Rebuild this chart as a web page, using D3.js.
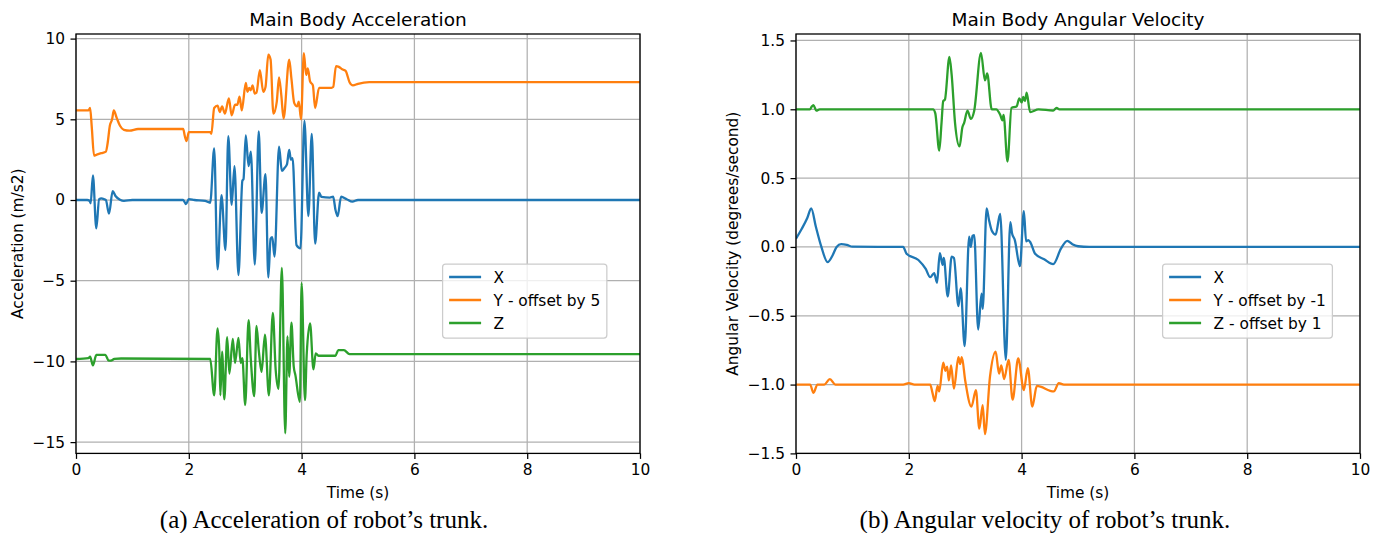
<!DOCTYPE html>
<html>
<head>
<meta charset="utf-8">
<script src="https://cdn.jsdelivr.net/npm/d3@7"></script>
<style>
  html, body { margin: 0; padding: 0; background: #fff; }
  svg text { fill: #000; }
</style>
</head>
<body>
<svg id="fig" width="1380" height="533"></svg>
<script>
// tick values
const timeTicks = [0, 2, 4, 6, 8, 10];
const accTicks = [-15, -10, -5, 0, 5, 10];
const velTicks = [-1.5, -1.0, -0.5, 0.0, 0.5, 1.0, 1.5];

// Main body acceleration, [time (s), value]
const accX = [[0,0],[0.2,0],[0.24,-0.05],[0.26,-0.2],[0.3,1.52],[0.36,-1.76],[0.41,0.05],[0.45,0.1],[0.5,0.05],[0.53,0],
  [0.585,-0.85],[0.65,0.55],[0.7,0.25],[0.78,0.02],[0.85,-0.05],[1.0,0],[1.9,0],[1.95,-0.25],[2.0,0.05],[2.1,0],
  [2.29,-0.06],[2.38,-0.17],[2.45,3.2],[2.51,-4.3],[2.58,0.3],[2.65,-3.1],[2.70,3.95],[2.76,-0.3],[2.81,2.1],[2.88,-4.65],
  [2.95,1.2],[2.97,1.3],[3.01,4.0],[3.06,2.1],[3.10,3.0],[3.17,-4.0],[3.24,4.25],[3.29,-0.8],[3.36,1.6],[3.41,-4.8],
  [3.45,-2.4],[3.48,-2.3],[3.52,-3.5],[3.60,3.3],[3.65,1.8],[3.70,2.0],[3.74,2.2],[3.78,3.1],[3.81,2.5],[3.84,2.6],
  [3.91,-2.8],[3.98,-3.0],[4.05,4.9],[4.12,-1.0],[4.18,4.1],[4.24,-2.7],[4.31,0.45],[4.35,0.2],[4.5,0.15],[4.56,0.2],
  [4.6,-0.6],[4.64,-1.0],[4.70,0.2],[4.8,0.05],[4.9,-0.1],[5.0,0],[10,0]];

const accY = [[0,5.55],[0.22,5.55],[0.25,5.7],[0.28,4.5],[0.32,2.75],[0.36,2.8],[0.45,2.9],[0.53,3.0],[0.56,3.5],[0.6,4.6],
  [0.64,5.0],[0.67,5.55],[0.72,5.1],[0.78,4.6],[0.85,4.35],[0.95,4.3],[1.1,4.4],[1.9,4.4],[1.93,3.95],[1.96,3.65],
  [2.0,4.2],[2.38,4.2],[2.4,4.1],[2.45,5.7],[2.51,5.85],[2.55,5.45],[2.59,5.8],[2.64,5.35],[2.71,6.3],[2.76,5.25],
  [2.82,5.9],[2.86,5.9],[2.90,6.4],[2.94,5.55],[3.01,7.25],[3.04,6.7],[3.07,6.95],[3.10,6.8],[3.13,7.1],[3.17,6.6],
  [3.20,6.65],[3.26,8.05],[3.32,6.7],[3.36,7.0],[3.41,9.0],[3.45,8.7],[3.50,5.35],[3.56,6.1],[3.60,7.6],[3.64,6.5],
  [3.68,5.05],[3.78,8.7],[3.82,7.5],[3.87,6.0],[3.92,5.8],[3.95,6.1],[3.99,5.0],[4.04,9.1],[4.08,7.75],[4.11,8.15],
  [4.15,7.35],[4.20,7.1],[4.24,5.7],[4.31,6.95],[4.53,6.95],[4.56,7.0],[4.61,8.3],[4.66,8.25],[4.72,8.1],[4.78,8.0],
  [4.85,7.3],[4.91,7.1],[5.0,7.2],[5.2,7.3],[10,7.3]];

const accZ = [[0,-9.85],[0.22,-9.8],[0.25,-9.7],[0.30,-10.25],[0.36,-9.6],[0.52,-9.6],[0.58,-9.95],[0.62,-9.95],[0.68,-9.85],
  [0.8,-9.82],[2.38,-9.85],[2.45,-12.1],[2.51,-7.95],[2.54,-9.3],[2.56,-12.1],[2.59,-9.4],[2.63,-12.35],[2.68,-8.5],
  [2.72,-10.75],[2.78,-8.6],[2.82,-10.1],[2.88,-8.55],[2.92,-10.1],[2.95,-9.8],[3.00,-12.7],[3.06,-7.45],[3.10,-9.9],
  [3.16,-12.15],[3.20,-7.8],[3.24,-9.3],[3.29,-10.65],[3.35,-8.35],[3.42,-12.1],[3.49,-7.0],[3.54,-10.5],[3.59,-11.7],
  [3.65,-4.2],[3.71,-14.45],[3.75,-8.45],[3.78,-10.95],[3.82,-7.6],[3.86,-10.3],[3.89,-10.85],[3.97,-12.5],[4.00,-5.15],
  [4.06,-12.4],[4.09,-9.6],[4.15,-7.65],[4.21,-10.5],[4.25,-9.5],[4.30,-9.65],[4.6,-9.65],[4.65,-9.3],[4.75,-9.3],
  [4.85,-9.55],[5.0,-9.55],[10,-9.55]];

// Main body angular velocity, [time (s), value]
const velX = [[0,0.06],[0.1,0.13],[0.2,0.21],[0.27,0.28],[0.35,0.15],[0.45,0.0],[0.56,-0.11],[0.65,-0.06],[0.72,0.0],
  [0.8,0.02],[0.9,0.015],[1.0,0.002],[1.9,0.0],[1.96,-0.05],[2.17,-0.095],[2.3,-0.16],[2.38,-0.22],[2.45,-0.19],
  [2.5,-0.26],[2.55,-0.045],[2.6,-0.13],[2.62,-0.08],[2.69,-0.36],[2.76,-0.07],[2.80,-0.08],[2.88,-0.43],[2.92,-0.30],
  [2.99,-0.72],[3.07,0.075],[3.10,0.0],[3.13,0.08],[3.16,0.085],[3.23,-0.60],[3.29,-0.34],[3.31,-0.45],[3.38,0.28],
  [3.42,0.2],[3.47,0.12],[3.54,0.09],[3.62,0.24],[3.72,-0.82],[3.80,0.18],[3.83,0.1],[3.88,0.05],[3.97,-0.14],
  [4.04,0.26],[4.08,0.04],[4.12,0.05],[4.16,0.03],[4.24,-0.05],[4.4,-0.09],[4.56,-0.125],[4.7,-0.01],[4.81,0.044],
  [4.9,0.02],[5.0,0.005],[5.2,0],[10,0]];

const velY = [[0,-1.0],[0.25,-1.0],[0.31,-1.06],[0.38,-1.0],[0.5,-1.0],[0.6,-0.96],[0.7,-1.0],[1.9,-1.0],[2.0,-0.99],
  [2.1,-1.0],[2.38,-1.0],[2.42,-1.06],[2.46,-1.12],[2.51,-1.01],[2.54,-1.05],[2.61,-0.84],[2.65,-0.9],[2.68,-0.87],
  [2.71,-0.97],[2.75,-0.86],[2.80,-1.03],[2.88,-0.80],[2.91,-0.85],[2.94,-0.80],[3.00,-0.97],[3.11,-1.16],[3.19,-1.04],
  [3.25,-1.32],[3.31,-1.15],[3.35,-1.36],[3.44,-0.94],[3.54,-0.76],[3.60,-0.92],[3.64,-0.86],[3.69,-0.96],[3.77,-0.82],
  [3.84,-1.11],[3.94,-0.81],[4.04,-1.04],[4.11,-0.88],[4.19,-1.16],[4.27,-1.01],[4.57,-1.05],[4.66,-0.99],[4.75,-1.0],
  [10,-1.0]];

const velZ = [[0,1.0],[0.25,1.0],[0.28,1.02],[0.31,1.03],[0.36,0.99],[0.42,1.0],[2.43,1.0],[2.47,0.97],[2.54,0.70],
  [2.58,0.9],[2.61,1.06],[2.64,1.07],[2.72,1.38],[2.76,1.25],[2.82,0.90],[2.90,0.73],[2.95,0.87],[2.98,0.9],[3.04,0.99],
  [3.10,0.93],[3.16,0.99],[3.28,1.41],[3.35,1.21],[3.39,1.26],[3.47,1.0],[3.55,1.0],[3.62,0.96],[3.66,0.92],[3.68,0.96],
  [3.75,0.62],[3.82,1.01],[3.91,1.02],[3.96,1.08],[4.00,1.05],[4.03,1.09],[4.06,1.06],[4.09,1.12],[4.15,0.98],[4.30,1.0],
  [4.56,0.99],[4.62,1.01],[4.67,1.0],[10,1.0]];

const seriesColors = ['#1f77b4', '#ff7f0e', '#2ca02c'];
const accLabels = ['X', 'Y - offset by 5', 'Z'];
const velLabels = ['X', 'Y - offset by -1', 'Z - offset by 1'];

const FONT = "'DejaVu Sans', sans-serif";
const svg = d3.select('#fig');

function drawPanel(opt) {
  const g = svg.append('g');
  const x = d3.scaleLinear().domain([0, 10]).range([opt.left, opt.right]);
  const y = d3.scaleLinear().domain(opt.yDomain).range([opt.bottom, opt.top]);

  // grid
  g.append('g').selectAll('line').data(timeTicks).join('line')
    .attr('x1', d => x(d)).attr('x2', d => x(d))
    .attr('y1', opt.top).attr('y2', opt.bottom)
    .attr('stroke', '#b0b0b0').attr('stroke-width', 1.25);
  g.append('g').selectAll('line').data(opt.yTicks).join('line')
    .attr('x1', opt.left).attr('x2', opt.right)
    .attr('y1', d => y(d)).attr('y2', d => y(d))
    .attr('stroke', '#b0b0b0').attr('stroke-width', 1.25);

  // data lines
  const clipId = 'clip-' + opt.id;
  g.append('clipPath').attr('id', clipId).append('rect')
    .attr('x', opt.left).attr('y', opt.top)
    .attr('width', opt.right - opt.left).attr('height', opt.bottom - opt.top);
  const line = d3.line().x(d => x(d[0])).y(d => y(d[1])).curve(d3.curveMonotoneX);
  opt.series.forEach((s, i) => {
    g.append('path').datum(s)
      .attr('clip-path', `url(#${clipId})`)
      .attr('d', line)
      .attr('fill', 'none')
      .attr('stroke', seriesColors[i])
      .attr('stroke-width', 2.3)
      .attr('stroke-linejoin', 'round');
  });

  // spines
  g.append('rect')
    .attr('x', opt.left).attr('y', opt.top)
    .attr('width', opt.right - opt.left).attr('height', opt.bottom - opt.top)
    .attr('fill', 'none').attr('stroke', '#000').attr('stroke-width', 1.3);

  // axes
  const xAxis = d3.axisBottom(x).tickValues(timeTicks).tickFormat(d3.format('d'))
    .tickSize(5.5).tickPadding(5.5).tickSizeOuter(0);
  g.append('g').attr('transform', `translate(0,${opt.bottom})`).call(xAxis)
    .attr('font-family', FONT).attr('font-size', 15.4)
    .call(a => a.select('.domain').remove())
    .call(a => a.selectAll('line').attr('stroke-width', 1.25));

  const yAxis = d3.axisLeft(y).tickValues(opt.yTicks).tickFormat(d3.format(opt.yFormat))
    .tickSize(5.5).tickPadding(5.5).tickSizeOuter(0);
  g.append('g').attr('transform', `translate(${opt.left},0)`).call(yAxis)
    .attr('font-family', FONT).attr('font-size', 15.4)
    .call(a => a.select('.domain').remove())
    .call(a => a.selectAll('line').attr('stroke-width', 1.25));

  const cx = (opt.left + opt.right) / 2;
  // title
  g.append('text').attr('x', cx).attr('y', 25.5)
    .attr('text-anchor', 'middle').attr('font-family', FONT).attr('font-size', 18.5)
    .text(opt.title);
  // axis labels
  g.append('text').attr('x', cx).attr('y', 497.5)
    .attr('text-anchor', 'middle').attr('font-family', FONT).attr('font-size', 15.4)
    .text('Time (s)');
  g.append('text')
    .attr('transform', `translate(${opt.yLabelX},${(opt.top + opt.bottom) / 2}) rotate(-90)`)
    .attr('text-anchor', 'middle').attr('font-family', FONT).attr('font-size', 15.4)
    .text(opt.yLabel);

  // legend
  const lg = g.append('g').attr('transform', `translate(${opt.legendX},${opt.legendY})`);
  const frame = lg.append('rect')
    .attr('rx', 3).attr('ry', 3)
    .attr('fill', '#fff').attr('fill-opacity', 0.8)
    .attr('stroke', '#cccccc').attr('stroke-width', 1.25);
  let maxW = 0;
  opt.labels.forEach((lab, i) => {
    const ry = 13 + i * 23;
    lg.append('line').attr('x1', 6.5).attr('x2', 38.5).attr('y1', ry).attr('y2', ry)
      .attr('stroke', seriesColors[i]).attr('stroke-width', 2.3);
    const t = lg.append('text').attr('x', 51).attr('y', ry).attr('dy', '0.36em')
      .attr('font-family', FONT).attr('font-size', 15.4).text(lab);
    maxW = Math.max(maxW, t.node().getComputedTextLength());
  });
  frame.attr('x', 0).attr('y', 0).attr('width', 51 + maxW + 6.5).attr('height', 74);

  // caption
  svg.append('text').attr('x', opt.captionX).attr('y', 528)
    .attr('text-anchor', 'middle')
    .attr('font-family', "'Liberation Serif', 'Times New Roman', serif")
    .attr('font-size', 25)
    .text(opt.caption);
}

drawPanel({
  id: 'acc', left: 76, right: 640, top: 34, bottom: 453.4,
  yDomain: [-15.7, 10.285], yTicks: accTicks, yFormat: 'd',
  series: [accX, accY, accZ], labels: accLabels,
  title: 'Main Body Acceleration', yLabel: 'Acceleration (m/s2)', yLabelX: 23,
  legendX: 442.6, legendY: 264,
  caption: '(a) Acceleration of robot\u2019s trunk.', captionX: 324
});

drawPanel({
  id: 'vel', left: 796, right: 1360, top: 34, bottom: 453.4,
  yDomain: [-1.5, 1.547], yTicks: velTicks, yFormat: '.1f',
  series: [velX, velY, velZ], labels: velLabels,
  title: 'Main Body Angular Velocity', yLabel: 'Angular Velocity (degrees/second)', yLabelX: 737.5,
  legendX: 1162.6, legendY: 264,
  caption: '(b) Angular velocity of robot\u2019s trunk.', captionX: 1045
});
</script>
</body>
</html>
